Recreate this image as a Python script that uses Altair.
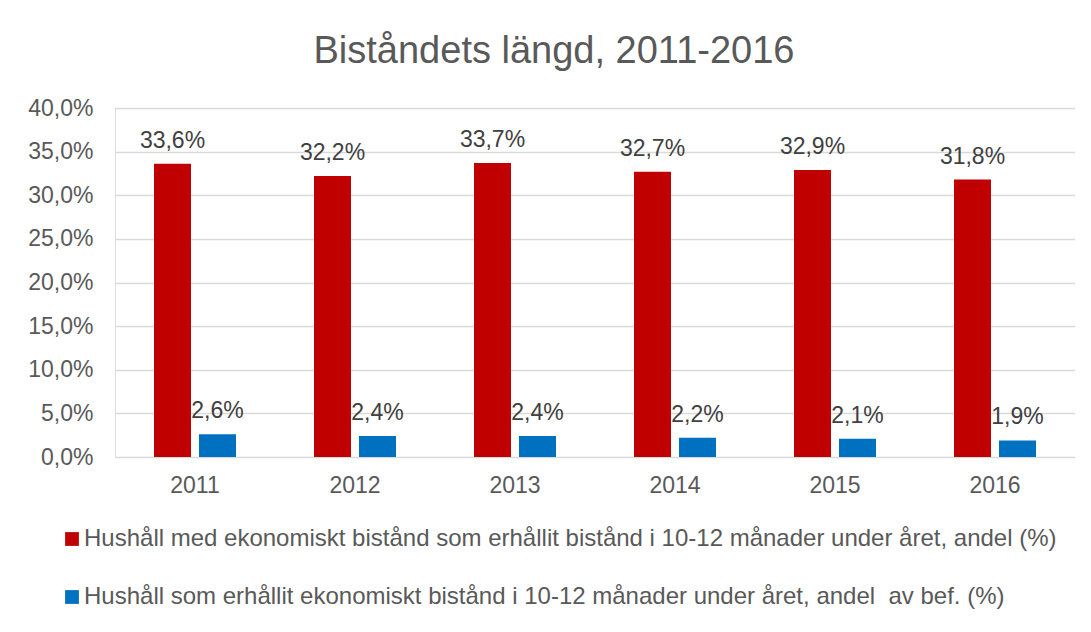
import altair as alt
import pandas as pd

years = ["2011", "2012", "2013", "2014", "2015", "2016"]
series_a = "Hushåll med ekonomiskt bistånd som erhållit bistånd i 10-12 månader under året, andel (%)"
series_b = "Hushåll som erhållit ekonomiskt bistånd i 10-12 månader under året, andel\u00a0 av bef. (%)"
values_a = [33.6, 32.2, 33.7, 32.7, 32.9, 31.8]
values_b = [2.6, 2.4, 2.4, 2.2, 2.1, 1.9]
y_ticks = [0, 5, 10, 15, 20, 25, 30, 35, 40]

rows = []
for y, a, b in zip(years, values_a, values_b):
    rows.append({"year": y, "series": series_a, "value": a})
    rows.append({"year": y, "series": series_b, "value": b})
df = pd.DataFrame(rows)

FONT = "Liberation Sans"
GREY = "#595959"

x = alt.X("year:N", title=None, sort=years,
          scale=alt.Scale(paddingInner=0.4875, paddingOuter=0.24375),
          axis=alt.Axis(labelAngle=0, labelFontSize=23, labelColor=GREY, labelFont=FONT,
                        ticks=False, domain=True, domainColor="#d9d9d9", labelPadding=17))
xoff = alt.XOffset("series:N", sort=[series_a, series_b],
                   scale=alt.Scale(paddingInner=0.1778, paddingOuter=0))
yenc = alt.Y("value:Q", title=None,
             scale=alt.Scale(domain=[0, 40], nice=False),
             axis=alt.Axis(values=y_ticks, ticks=False, domain=False,
                           labelExpr="replace(format(datum.value, '.1f'), '.', ',') + '%'",
                           labelFontSize=23, labelColor=GREY, labelFont=FONT, labelPadding=22,
                           gridColor="#d9d9d9", gridWidth=1.5))
color = alt.Color("series:N", sort=[series_a, series_b],
                  scale=alt.Scale(domain=[series_a, series_b], range=["#C00000", "#0070C0"]),
                  legend=alt.Legend(title=None, orient="none", legendX=-55, legendY=419,
                                    direction="vertical", symbolType="square", symbolSize=190,
                                    symbolStrokeWidth=0, labelFontSize=24, labelColor=GREY,
                                    labelFont=FONT, labelLimit=1200, rowPadding=34, labelOffset=0))

base = alt.Chart(df)
bars = base.mark_bar().encode(x=x, xOffset=xoff, y=yenc, color=color)
labels = base.transform_calculate(
    lab="replace(format(datum.value, '.1f'), '.', ',') + '%'"
).mark_text(baseline="alphabetic", dy=-16, fontSize=23, font=FONT, color="#404040").encode(
    x=x, xOffset=xoff, y=yenc, text="lab:N"
)

chart = (bars + labels).properties(
    width=960, height=349,
    title=alt.TitleParams("Biståndets längd, 2011-2016", fontSize=38, font=FONT,
                          color=GREY, fontWeight="normal", anchor="middle", dx=-41, offset=26),
    autosize=alt.AutoSizeParams(type="none"),
    padding={"left": 107, "top": 100, "right": 0, "bottom": 158},
).configure_view(stroke=None).configure(background="white")

chart.save("out.html", embed_options={"renderer": "svg", "actions": False})
